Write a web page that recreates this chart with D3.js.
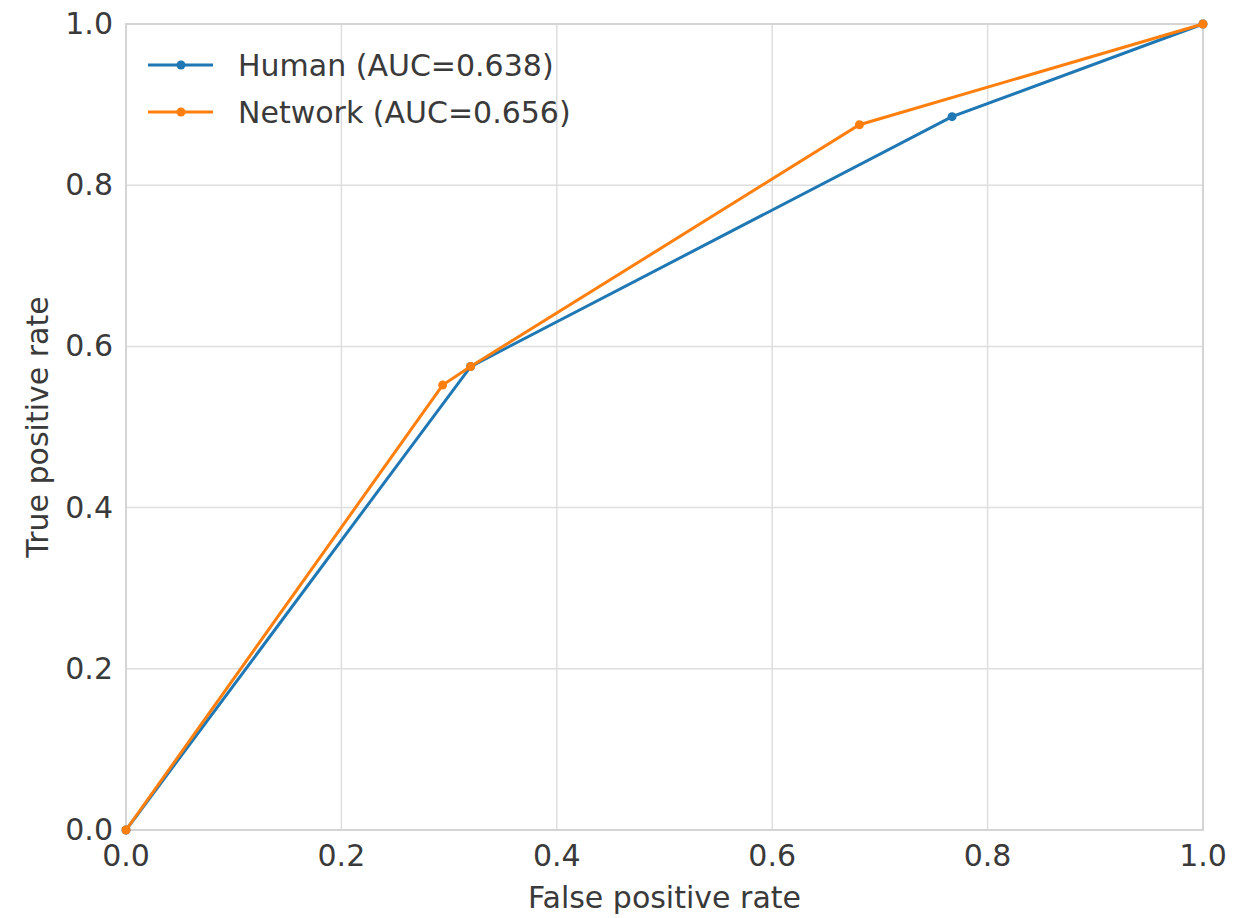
<!DOCTYPE html>
<html>
<head>
<meta charset="utf-8">
<script src="https://cdn.jsdelivr.net/npm/d3@7"></script>
<style>
  body { margin: 0; background: #fff; }
  text { font-family: "DejaVu Sans", sans-serif; fill: #3a3a3a; }
</style>
</head>
<body>
<svg></svg>
<script>
const humanFpr = [0, 0.32, 0.767, 1]
const humanTpr = [0, 0.575, 0.885, 1]
const networkFpr = [0, 0.294, 0.32, 0.681, 1]
const networkTpr = [0, 0.552, 0.575, 0.875, 1]
const seriesNames = ['Human (AUC=0.638)', 'Network (AUC=0.656)']
const seriesColors = ['#1f77b4', '#ff7f0e']
const tickValues = [0, 0.2, 0.4, 0.6, 0.8, 1.0]

const width = 1240
const height = 918
const margin = { left: 126, right: 37, top: 24, bottom: 88 }

const svg = d3.select('svg')
  .attr('width', width)
  .attr('height', height)

const x = d3.scaleLinear().domain([0, 1]).range([margin.left, width - margin.right])
const y = d3.scaleLinear().domain([0, 1]).range([height - margin.bottom, margin.top])

// grid
svg.append('g').selectAll('line')
  .data(tickValues)
  .enter().append('line')
  .attr('x1', d => x(d)).attr('x2', d => x(d))
  .attr('y1', y(0)).attr('y2', y(1))
  .attr('stroke', '#dedede').attr('stroke-width', 1.5)
svg.append('g').selectAll('line')
  .data(tickValues)
  .enter().append('line')
  .attr('y1', d => y(d)).attr('y2', d => y(d))
  .attr('x1', x(0)).attr('x2', x(1))
  .attr('stroke', '#dedede').attr('stroke-width', 1.5)

// frame
svg.append('rect')
  .attr('x', x(0)).attr('y', y(1))
  .attr('width', x(1) - x(0)).attr('height', y(0) - y(1))
  .attr('fill', 'none').attr('stroke', '#d4d4d4').attr('stroke-width', 2)

// tick labels
svg.append('g').selectAll('text')
  .data(tickValues)
  .enter().append('text')
  .attr('x', d => x(d))
  .attr('y', y(0) + 36)
  .attr('text-anchor', 'middle')
  .attr('font-size', 30)
  .text(d => d.toFixed(1))
svg.append('g').selectAll('text')
  .data(tickValues)
  .enter().append('text')
  .attr('x', x(0) - 13)
  .attr('y', d => y(d) + 10)
  .attr('text-anchor', 'end')
  .attr('font-size', 30)
  .text(d => d.toFixed(1))

svg.append('text')
  .attr('x', (x(0) + x(1)) / 2)
  .attr('y', y(0) + 78)
  .attr('text-anchor', 'middle')
  .attr('font-size', 30)
  .text('False positive rate')
svg.append('text')
  .attr('transform', `translate(48,${(y(0) + y(1)) / 2}) rotate(-90)`)
  .attr('text-anchor', 'middle')
  .attr('font-size', 30)
  .text('True positive rate')

const series = [
  { fpr: humanFpr, tpr: humanTpr },
  { fpr: networkFpr, tpr: networkTpr },
]

const line = d3.line()
  .x(d => x(d[0]))
  .y(d => y(d[1]))

series.forEach((s, i) => {
  const pts = s.fpr.map((f, j) => [f, s.tpr[j]])
  svg.append('path')
    .datum(pts)
    .attr('d', line)
    .attr('fill', 'none')
    .attr('stroke', seriesColors[i])
    .attr('stroke-width', 3)
  svg.append('g').selectAll('circle')
    .data(pts)
    .enter().append('circle')
    .attr('cx', d => x(d[0]))
    .attr('cy', d => y(d[1]))
    .attr('r', 4.5)
    .attr('fill', seriesColors[i])
})

// legend
const legend = svg.append('g')
seriesNames.forEach((name, i) => {
  const ly = 65 + i * 47
  legend.append('line')
    .attr('x1', 148).attr('x2', 213)
    .attr('y1', ly).attr('y2', ly)
    .attr('stroke', seriesColors[i]).attr('stroke-width', 3)
  legend.append('circle')
    .attr('cx', 181).attr('cy', ly).attr('r', 4.5)
    .attr('fill', seriesColors[i])
  legend.append('text')
    .attr('x', 238).attr('y', ly + 11)
    .attr('font-size', 30)
    .text(name)
})
</script>
</body>
</html>
